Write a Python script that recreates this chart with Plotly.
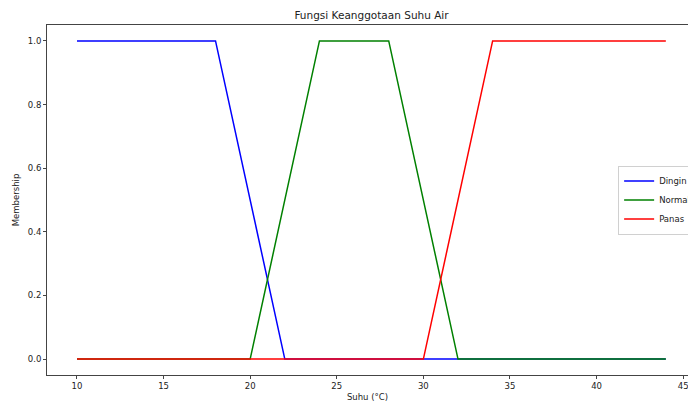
import plotly.graph_objects as go

suhu_dingin = [10, 18, 22, 44]
mu_dingin = [1, 1, 0, 0]
suhu_normal = [10, 20, 24, 28, 32, 44]
mu_normal = [0, 0, 1, 1, 0, 0]
suhu_panas = [10, 30, 34, 44]
mu_panas = [0, 0, 1, 1]

x_ticks = [10, 15, 20, 25, 30, 35, 40, 45]
y_ticks = [0.0, 0.2, 0.4, 0.6, 0.8, 1.0]

font = "DejaVu Sans"
fig = go.Figure()
fig.add_trace(go.Scatter(x=suhu_dingin, y=mu_dingin, mode="lines", name="Dingin",
                         line=dict(color="#0000ff", width=1.5)))
fig.add_trace(go.Scatter(x=suhu_normal, y=mu_normal, mode="lines", name="Normal",
                         line=dict(color="#008000", width=1.5)))
fig.add_trace(go.Scatter(x=suhu_panas, y=mu_panas, mode="lines", name="Panas",
                         line=dict(color="#ff0000", width=1.5)))

axis_common = dict(showgrid=False, zeroline=False, showline=True, linecolor="#444",
                   linewidth=1, mirror=True, ticks="outside", ticklen=3, tickwidth=1,
                   tickcolor="#444", ticklabeloverflow="allow",
                   tickfont=dict(family=font, size=8.5, color="#222"))
fig.update_layout(
    width=688, height=402,
    margin=dict(l=47, r=0, t=25, b=27, autoexpand=False),
    paper_bgcolor="white", plot_bgcolor="white",
    title=dict(text="Fungsi Keanggotaan Suhu Air", x=0.54, xanchor="center", y=0.962,
               yanchor="middle", font=dict(family=font, size=10.5, color="#222")),
    xaxis=dict(range=[8.27, 45.28], tickvals=x_ticks, ticktext=[str(t) for t in x_ticks],
               title=dict(text="Suhu (°C)", font=dict(family=font, size=8.5, color="#222"), standoff=4),
               **axis_common),
    yaxis=dict(range=[-0.05, 1.05], tickvals=y_ticks, ticktext=[f"{t:.1f}" for t in y_ticks],
               title=dict(text="Membership", font=dict(family=font, size=8.5, color="#222"), standoff=6),
               **axis_common),
    legend=dict(x=0.891, xanchor="left", y=0.5, yanchor="middle", bgcolor="white",
                bordercolor="#d0d0d0", borderwidth=1, font=dict(family=font, size=8.5, color="#222"),
                itemwidth=30, tracegroupgap=0),
    showlegend=True,
)
fig.write_html("out.html", config={"displayModeBar": False},
               post_script="document.body.style.margin='0';document.body.style.overflow='hidden';")
